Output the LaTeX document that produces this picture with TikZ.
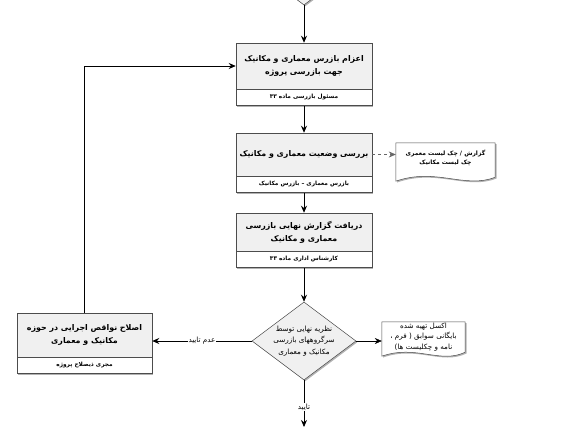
\documentclass[tikz,border=0pt]{standalone}
\usepackage{fontspec}
\usetikzlibrary{arrows.meta,positioning,calc,shapes.geometric,shadows}
\TeXXeTstate=1
\newfontfamily\arabicfont[Script=Arabic]{DejaVu Sans}
\newcommand{\fa}[1]{\beginR #1\endR}
\colorlet{boxfill}{black!6}
\colorlet{boxline}{black!70}
\tikzset{
  >={Stealth[length=7pt,width=6pt]},
  every node/.style={font=\arabicfont},
  shd/.style={drop shadow={shadow xshift=1.3pt,shadow yshift=-1.3pt,fill=black!30,opacity=1}},
  mainbox/.style={draw=boxline,line width=0.5pt,fill=boxfill,shd,align=center,inner sep=2pt,
    minimum width=136pt,font=\arabicfont\bfseries\fontsize{7.9}{13}\selectfont},
  rolebox/.style={draw=boxline,line width=0.5pt,fill=white,shd,align=center,inner sep=1pt,
    minimum width=136pt,minimum height=16pt,font=\arabicfont\bfseries\fontsize{5.8}{7}\selectfont},
  dec/.style={diamond,draw=boxline,line width=0.5pt,fill=boxfill,shd,inner sep=0pt,
    minimum width=104pt,minimum height=78pt},
  dectext/.style={align=center,inner sep=0pt,font=\arabicfont\fontsize{7.2}{11.5}\selectfont},
  doc/.style={inner sep=0pt,align=center},
  docline/.style={draw=boxline,line width=0.5pt,fill=white,shd},
  flow/.style={->,line width=0.8pt},
  dflow/.style={->,line width=0.6pt,dashed,black!60},
  lab/.style={fill=white,inner sep=1pt,font=\arabicfont\fontsize{7.2}{8}\selectfont},
}

\begin{document}
\begin{tikzpicture}[x=1pt,y=1pt]
  \useasboundingbox (0,0) rectangle (578,-428);

  % previous step, cut off by the page edge
  \begin{scope}
    \clip (0,0) rectangle (578,-428);
    \node[dec] (prev) at (304,34) {};
  \end{scope}

  % main column
  \node[mainbox,minimum height=46pt] (b1) at (304,-66)
    {\fa{اعزام بازرس معماری و مکانیک}\\\fa{جهت بازرسی پروژه}};
  \node[rolebox,below=0pt of b1] (b1r) {\fa{مسئول بازرسی ماده ۳۳}};

  \node[mainbox,minimum height=43pt] (b2) at (304,-154.5)
    {\fa{بررسی وضعیت معماری و مکانیک}};
  \node[rolebox,below=0pt of b2] (b2r) {\fa{بازرس معماری – بازرس مکانیک}};

  \node[mainbox,minimum height=38pt] (b3) at (304,-232)
    {\fa{دریافت گزارش نهایی بازرسی}\\\fa{معماری و مکانیک}};
  \node[rolebox,below=0pt of b3] (b3r) {\fa{کارشناس اداری ماده ۳۳}};

  % decision
  \node[dec] (d) at (304,-341) {};
  \node[dectext] (dt) at (d.center)
    {\beginR نظریه نهایی توسط\endR\\\beginR سرگروههای بازرسی\endR\\\beginR مکانیک و معماری\endR};
  \coordinate (out) at (304,-427);

  % correction box on the left
  \node[mainbox,minimum width=135pt,minimum height=44pt] (f) at (84.5,-335)
    {\fa{اصلاح نواقص اجرایی در حوزه}\\\fa{مکانیک و معماری}};
  \node[rolebox,minimum width=135pt,below=0pt of f] (fr) {\fa{مجری ذیصلاح پروژه}};

  % documents
  \node[doc,minimum width=99pt,minimum height=40pt] (k1) at (445.5,-163) {};
  \draw[docline] (k1.north west) -- (k1.north east) -- ($(k1.south east)+(0,6)$)
    .. controls ($(k1.south east)+(-30,-6)$) and ($(k1.south west)+(40,16)$) .. ($(k1.south west)+(0,2)$) -- cycle;
  \node[doc,font=\arabicfont\bfseries\fontsize{6}{9.5}\selectfont] (k1t) at ($(k1.center)+(0,5)$)
    {\fa{گزارش / چک لیست معمری}\\\fa{چک لیست مکانیک}};

  \node[doc,minimum width=83pt,minimum height=36pt] (k2) at (423.5,-340) {};
  \draw[docline] (k2.north west) -- (k2.north east) -- ($(k2.south east)+(0,6)$)
    .. controls ($(k2.south east)+(-25,-6)$) and ($(k2.south west)+(34,14)$) .. ($(k2.south west)+(0,2)$) -- cycle;
  \node[doc,font=\arabicfont\fontsize{7.2}{10.5}\selectfont] (k2t) at ($(k2.center)+(0,3)$)
    {\fa{اکسل تهیه شده}\\\fa{بایگانی سوابق ( فرم ،}\\\fa{نامه و چکلیست ها)}};

  % flows
  \draw[flow] (prev.south) -- (b1.north);
  \draw[flow] (b1r.south) -- (b2.north);
  \draw[flow] (b2r.south) -- (b3.north);
  \draw[flow] (b3r.south) -- (d.north);
  \draw[dflow] (b2.east) -- (b2.east -| k1.west);
  \draw[flow,line width=0.5pt] (d.east) -- (d.east -| k2.west);
  \draw[flow] (d.west) -- node[lab] {\fa{عدم تایید}} (d.west -| f.east);
  \draw[flow] (d.south) -- node[lab,pos=0.57] {\fa{تایید}} (out);
  \draw[flow] (f.north) |- (b1.west);
\end{tikzpicture}
\end{document}
